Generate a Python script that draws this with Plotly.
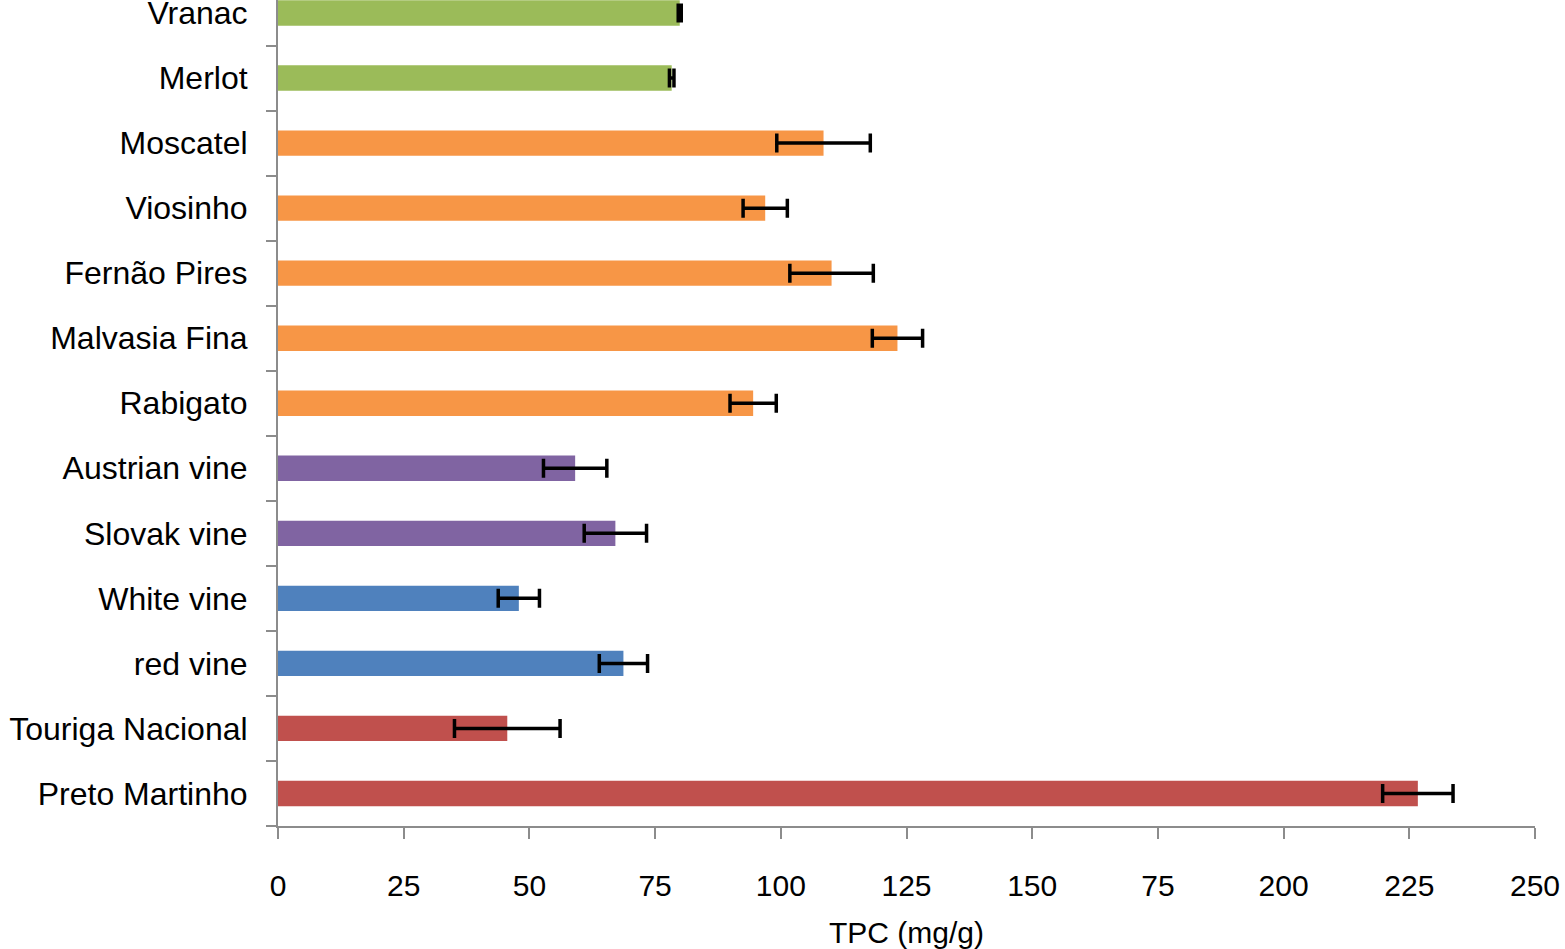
import plotly.graph_objects as go

# Data (bottom to top as drawn)
categories = ["Preto Martinho", "Touriga Nacional", "red vine", "White vine",
              "Slovak vine", "Austrian vine", "Rabigato", "Malvasia Fina",
              "Fernão Pires", "Viosinho", "Moscatel", "Merlot", "Vranac"]
tpc_values = [226.7, 45.6, 68.7, 47.9, 67.1, 59.1, 94.5, 123.2, 110.1, 96.9, 108.5, 78.3, 79.9]
tpc_errors = [7.0, 10.5, 4.8, 4.1, 6.2, 6.3, 4.6, 5.0, 8.3, 4.4, 9.3, 0.45, 0.3]
bar_colors = ["#C0504D", "#C0504D", "#4F81BD", "#4F81BD", "#8064A2", "#8064A2",
              "#F79646", "#F79646", "#F79646", "#F79646", "#F79646", "#9BBB59", "#9BBB59"]

x_tickvals = [0, 25, 50, 75, 100, 125, 150, 175, 200, 225, 250]
x_ticktext = ["0", "25", "50", "75", "100", "125", "150", "75", "200", "225", "250"]

FONT = "Liberation Sans, Arial, sans-serif"
AXIS_GRAY = "#8C8C8C"

fig = go.Figure(go.Bar(
    y=categories,
    x=tpc_values,
    orientation="h",
    marker=dict(color=bar_colors, line=dict(width=0)),
    error_x=dict(type="data", array=tpc_errors, visible=True,
                 color="black", thickness=3.5, width=9.5),
    hoverinfo="x+y",
))

fig.update_layout(
    width=1565, height=949,
    margin=dict(l=278, r=30, t=0, b=123),
    paper_bgcolor="white", plot_bgcolor="white",
    font=dict(family=FONT, color="black"),
    bargap=0.61,
    showlegend=False,
)

fig.update_xaxes(
    range=[0, 250],
    automargin=False,
    tickvals=x_tickvals, ticktext=x_ticktext,
    tickfont=dict(size=30, family=FONT, color="black"),
    ticks="outside", ticklen=11, tickwidth=2, tickcolor=AXIS_GRAY,
    showline=True, linecolor=AXIS_GRAY, linewidth=2,
    showgrid=False, zeroline=False,
    ticklabelstandoff=21,
    title=dict(text="TPC (mg/g)", font=dict(size=30, family=FONT, color="black"), standoff=22),
)

fig.update_yaxes(
    type="category",
    automargin=False,
    range=[-0.5, 12.2],
    tickson="boundaries",
    tickfont=dict(size=32, family=FONT, color="black"),
    ticks="outside", ticklen=10, tickwidth=2, tickcolor=AXIS_GRAY,
    showline=True, linecolor=AXIS_GRAY, linewidth=2,
    showgrid=False, zeroline=False,
    ticklabelstandoff=22,
)

fig.write_html(
    "out.html",
    config={"displayModeBar": False},
    post_script="document.body.style.margin='0px';document.body.style.overflow='hidden';",
)
